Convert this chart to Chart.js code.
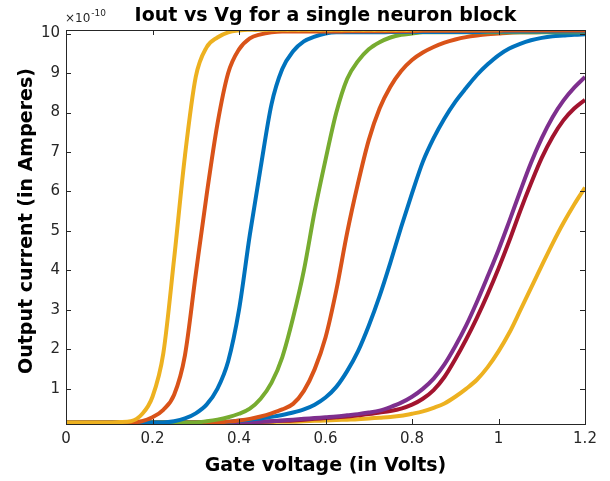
<!DOCTYPE html>
<html>
<head>
<meta charset="utf-8">
<script src="https://cdn.jsdelivr.net/npm/chart.js@4.4.0/dist/chart.umd.min.js"></script>
<style>
  html, body { margin: 0; padding: 0; background: #fff; }
</style>
</head>
<body>
<canvas id="chart" width="610" height="481"></canvas>
<script>
// Iout vs Vg curves (units of 1e-10 A)
const vg = [0, 0.025, 0.05, 0.075, 0.1, 0.125, 0.15, 0.175, 0.2, 0.225, 0.25, 0.275, 0.3, 0.325, 0.35, 0.375,
  0.4, 0.425, 0.45, 0.475, 0.5, 0.525, 0.55, 0.575, 0.6, 0.625, 0.65, 0.675, 0.7, 0.725, 0.75, 0.775,
  0.8, 0.825, 0.85, 0.875, 0.9, 0.925, 0.95, 0.975, 1.0, 1.025, 1.05, 1.075, 1.1, 1.125, 1.15, 1.175, 1.2];

const yellow1 = [0.15, 0.15, 0.15, 0.15, 0.15, 0.16, 0.18, 0.35, 0.8, 1.9, 4.3, 6.9, 8.9, 9.65, 9.9, 10.03,
  10.08, 10.1, 10.1, 10.1, 10.1, 10.1, 10.1, 10.1, 10.1, 10.1, 10.1, 10.1, 10.1, 10.1, 10.1, 10.1,
  10.1, 10.11, 10.11, 10.11, 10.11, 10.11, 10.11, 10.11, 10.11, 10.12, 10.12, 10.12, 10.12, 10.12, 10.12, 10.12, 10.12];
const orange1 = [0.15, 0.15, 0.15, 0.15, 0.15, 0.15, 0.15, 0.18, 0.28, 0.47, 0.85, 1.85, 3.9, 5.9, 7.7, 9.0,
  9.6, 9.88, 9.98, 10.03, 10.05, 10.05, 10.05, 10.05, 10.05, 10.05, 10.06, 10.06, 10.06, 10.06, 10.06, 10.06,
  10.06, 10.07, 10.07, 10.07, 10.07, 10.07, 10.07, 10.07, 10.07, 10.08, 10.08, 10.08, 10.08, 10.08, 10.08, 10.08, 10.08];
const blue1 = [0.15, 0.15, 0.15, 0.15, 0.15, 0.15, 0.15, 0.15, 0.15, 0.15, 0.18, 0.25, 0.38, 0.6, 1.0, 1.7,
  3.0, 4.9, 6.6, 8.2, 9.1, 9.55, 9.8, 9.92, 10.0, 10.03, 10.03, 10.03, 10.03, 10.03, 10.04, 10.04,
  10.04, 10.04, 10.04, 10.04, 10.04, 10.04, 10.04, 10.05, 10.05, 10.05, 10.05, 10.05, 10.05, 10.05, 10.05, 10.05, 10.05];
const green1 = [0.15, 0.15, 0.15, 0.15, 0.15, 0.15, 0.15, 0.15, 0.15, 0.15, 0.15, 0.15, 0.15, 0.18, 0.22, 0.28,
  0.37, 0.5, 0.75, 1.15, 1.8, 2.8, 4.0, 5.5, 6.8, 8.0, 8.85, 9.3, 9.6, 9.78, 9.9, 9.97,
  10.0, 10.03, 10.03, 10.03, 10.03, 10.03, 10.03, 10.03, 10.03, 10.03, 10.03, 10.03, 10.03, 10.03, 10.03, 10.03, 10.03];
const orange2 = [0.15, 0.15, 0.15, 0.15, 0.15, 0.15, 0.15, 0.15, 0.15, 0.15, 0.15, 0.15, 0.15, 0.15, 0.15, 0.17,
  0.2, 0.24, 0.3, 0.38, 0.48, 0.62, 0.95, 1.5, 2.3, 3.5, 4.95, 6.2, 7.3, 8.1, 8.65, 9.05,
  9.33, 9.52, 9.66, 9.77, 9.85, 9.91, 9.95, 9.98, 10.0, 10.02, 10.03, 10.03, 10.04, 10.04, 10.05, 10.05, 10.05];
const blue2 = [0.15, 0.15, 0.15, 0.15, 0.15, 0.15, 0.15, 0.15, 0.15, 0.15, 0.15, 0.15, 0.15, 0.15, 0.15, 0.17,
  0.19, 0.22, 0.25, 0.29, 0.34, 0.4, 0.48, 0.6, 0.78, 1.05, 1.45, 1.95, 2.6, 3.35, 4.2, 5.1,
  5.95, 6.75, 7.35, 7.85, 8.27, 8.62, 8.95, 9.22, 9.45, 9.62, 9.74, 9.83, 9.89, 9.93, 9.95, 9.97, 9.98];
const purple1 = [0.15, 0.15, 0.15, 0.15, 0.15, 0.15, 0.15, 0.15, 0.15, 0.15, 0.15, 0.15, 0.15, 0.15, 0.15, 0.15,
  0.15, 0.16, 0.17, 0.18, 0.2, 0.22, 0.24, 0.26, 0.28, 0.3, 0.33, 0.36, 0.4, 0.45, 0.54, 0.65,
  0.8, 1.0, 1.26, 1.62, 2.08, 2.6, 3.2, 3.85, 4.52, 5.25, 6.0, 6.72, 7.35, 7.88, 8.3, 8.63, 8.9];
const red1 = [0.15, 0.15, 0.15, 0.15, 0.15, 0.15, 0.15, 0.15, 0.15, 0.15, 0.15, 0.15, 0.15, 0.15, 0.15, 0.15,
  0.15, 0.16, 0.17, 0.18, 0.19, 0.2, 0.22, 0.24, 0.26, 0.28, 0.3, 0.33, 0.36, 0.4, 0.44, 0.5,
  0.6, 0.75, 0.97, 1.3, 1.75, 2.25, 2.8, 3.4, 4.05, 4.75, 5.5, 6.2, 6.85, 7.38, 7.8, 8.1, 8.32];
const yellow2 = [0.15, 0.15, 0.15, 0.15, 0.15, 0.15, 0.15, 0.15, 0.15, 0.15, 0.15, 0.15, 0.15, 0.15, 0.15, 0.15,
  0.15, 0.15, 0.16, 0.16, 0.17, 0.17, 0.18, 0.19, 0.2, 0.21, 0.22, 0.23, 0.25, 0.27, 0.29, 0.32,
  0.37, 0.43, 0.52, 0.63, 0.8, 1.0, 1.23, 1.55, 1.95, 2.42, 2.98, 3.55, 4.12, 4.68, 5.2, 5.67, 6.1];

const xTicks = [0, 0.2, 0.4, 0.6, 0.8, 1, 1.2];
const yTicks = [1, 2, 3, 4, 5, 6, 7, 8, 9, 10];

const titleText = 'Iout vs Vg for a single neuron block';
const xLabel = 'Gate voltage (in Volts)';
const yLabel = 'Output current (in Amperes)';

const FONT = '"DejaVu Sans", sans-serif';
const AXIS_COLOR = '#262626';

function makeSet(values, color) {
  return {
    data: values.map((v, i) => ({ x: vg[i], y: v })),
    borderColor: color,
    borderWidth: 4,
    pointRadius: 0,
    fill: false,
    cubicInterpolationMode: 'monotone'
  };
}

// first dataset is painted on top in Chart.js
const datasets = [
  makeSet(yellow1, '#EDB120'),
  makeSet(orange1, '#D95319'),
  makeSet(blue1, '#0072BD'),
  makeSet(green1, '#77AC30'),
  makeSet(orange2, '#D95319'),
  makeSet(blue2, '#0072BD'),
  makeSet(purple1, '#7E2F8E'),
  makeSet(red1, '#A2142F'),
  makeSet(yellow2, '#EDB120')
];

// matlab-ish box, inward ticks and the text around the axes
const matlabAxes = {
  id: 'matlabAxes',
  afterDatasetsDraw(chart) {
    const { ctx, chartArea: a, scales: { x, y } } = chart;
    ctx.save();
    ctx.strokeStyle = AXIS_COLOR;
    ctx.lineWidth = 1;
    ctx.strokeRect(Math.round(a.left) + 0.5, Math.round(a.top) + 0.5,
      Math.round(a.right - a.left), Math.round(a.bottom - a.top));
    ctx.beginPath();
    x.ticks.forEach(t => {
      const px = Math.round(x.getPixelForValue(t.value)) + 0.5;
      ctx.moveTo(px, a.bottom); ctx.lineTo(px, a.bottom - 5);
      ctx.moveTo(px, a.top); ctx.lineTo(px, a.top + 5);
    });
    y.ticks.forEach(t => {
      const py = Math.round(y.getPixelForValue(t.value)) + 0.5;
      ctx.moveTo(a.left, py); ctx.lineTo(a.left + 5, py);
      ctx.moveTo(a.right, py); ctx.lineTo(a.right - 5, py);
    });
    ctx.stroke();

    const cx = (a.left + a.right) / 2;
    ctx.fillStyle = '#000';
    ctx.font = 'bold 19px ' + FONT;
    ctx.textAlign = 'center';
    ctx.textBaseline = 'alphabetic';
    ctx.fillText(titleText, cx, 21);
    ctx.fillText(xLabel, cx, 471);

    ctx.save();
    ctx.translate(32, 221);
    ctx.rotate(-Math.PI / 2);
    ctx.fillText(yLabel, 0, 0);
    ctx.restore();

    // exponent label
    ctx.fillStyle = AXIS_COLOR;
    ctx.textAlign = 'left';
    ctx.font = '12px ' + FONT;
    ctx.fillText('\u00d710', 65, 22);
    const w = ctx.measureText('\u00d710').width;
    ctx.font = '9px ' + FONT;
    ctx.fillText('-10', 65 + w + 1, 16);
    ctx.restore();
  }
};

new Chart(document.getElementById('chart'), {
  type: 'line',
  data: { datasets },
  options: {
    responsive: false,
    animation: false,
    events: [],
    layout: { padding: { top: 30, right: 25, left: 0, bottom: 0 } },
    plugins: {
      legend: { display: false },
      title: { display: false },
      tooltip: { enabled: false }
    },
    scales: {
      x: {
        type: 'linear',
        min: 0,
        max: 1.2,
        afterBuildTicks: s => { s.ticks = xTicks.map(v => ({ value: v })); },
        afterFit: s => { s.height = 57; },
        grid: { display: false, drawTicks: false },
        border: { display: false },
        ticks: {
          autoSkip: false,
          maxRotation: 0,
          padding: 6,
          color: AXIS_COLOR,
          font: { family: FONT, size: 15 },
          callback: v => String(Math.round(v * 10) / 10)
        }
      },
      y: {
        min: 0.11,
        max: 10.09,
        afterBuildTicks: s => { s.ticks = yTicks.map(v => ({ value: v })); },
        afterFit: s => { s.width = 66; },
        grid: { display: false, drawTicks: false },
        border: { display: false },
        ticks: {
          autoSkip: false,
          padding: 6,
          color: AXIS_COLOR,
          font: { family: FONT, size: 15 }
        }
      }
    }
  },
  plugins: [matlabAxes]
});
</script>
</body>
</html>
